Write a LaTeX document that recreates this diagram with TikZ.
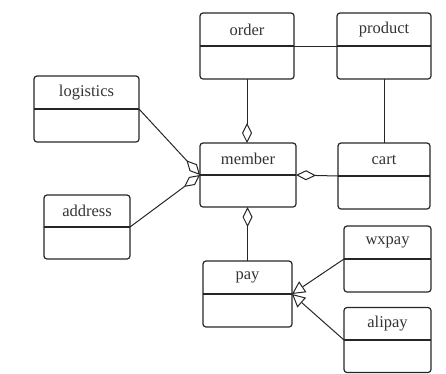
\documentclass[tikz,border=0pt]{standalone}
\usepackage{fontspec}
\setmainfont{Liberation Serif}
\usetikzlibrary{arrows.meta}
\begin{document}
\begin{tikzpicture}[x=1pt,y=-1pt,
  umlbox/.style={draw=black!85, line width=1.2pt, rounded corners=3pt, outer sep=0pt, inner sep=0pt},
  lbl/.style={font=\rmfamily\fontsize{16.5}{18}\selectfont, text=black!80, inner sep=0pt},
  conn/.style={draw=black!85, line width=1pt},
  agg/.style={conn, {Diamond[open, length=20pt, width=10pt, line width=1pt]}-},
  gen/.style={conn, -{Triangle[open, length=13pt, width=13pt, line width=1pt]}}]
\useasboundingbox (0,0) rectangle (446,373);
\newcommand{\umlclass}[6]{%
  \node[umlbox, minimum width=#4pt, minimum height=#5pt] (#1) at (#2,#3) {};
  \draw[line width=1.2pt, draw=black!85] (#1.west) -- (#1.east);
  \node[lbl] (#1-t) at ([yshift=#5pt/4]#1.center) {#6};}
\umlclass{order}{247}{46}{94}{66}{order}
\umlclass{product}{384}{46}{94}{66}{product}
\umlclass{logistics}{86.5}{109}{105}{66}{logistics}
\umlclass{member}{248}{175}{96}{64}{member}
\umlclass{address}{87}{227}{86}{64}{address}
\umlclass{cart}{384}{176}{92}{66}{cart}
\umlclass{pay}{247.5}{294}{89}{66}{pay}
\umlclass{wxpay}{387.5}{259}{87}{66}{wxpay}
\umlclass{alipay}{387.5}{340}{87}{65}{alipay}
\draw[conn] (order.east) -- (product.west);
\draw[conn] (product.south) -- (cart.north);
\draw[agg] (member.north -| order.south) -- (order.south);
\draw[agg] (member.south -| pay.north) -- (pay.north);
\draw[agg] (member.west) -- (logistics.east);
\draw[agg] (member.west) -- (address.east);
\draw[agg] (member.east) -- (cart.west);
\draw[gen] (wxpay.west) -- (pay.east);
\draw[gen] (alipay.west) -- (pay.east);
\end{tikzpicture}
\end{document}
